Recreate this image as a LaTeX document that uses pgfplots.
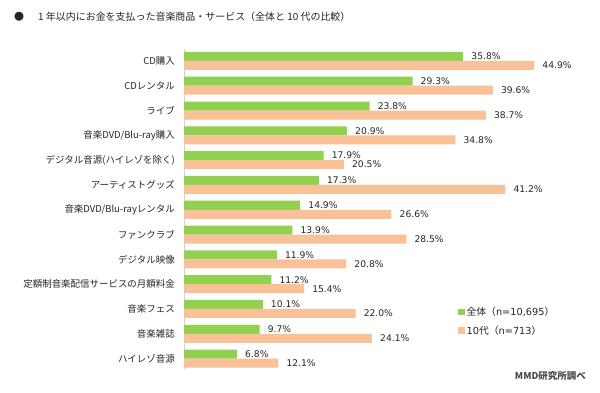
\documentclass[border=0pt]{standalone}
\usepackage{pgfplots}
\pgfplotsset{compat=1.18}
\usepackage{pgfplotstable}
\usepackage{fontspec}
\setmainfont{Noto Sans CJK JP}
\newfontfamily\numfont{DejaVu Sans}
\definecolor{gr}{HTML}{92D050}
\definecolor{og}{HTML}{F9C197}
\definecolor{txt}{HTML}{262626}
\pgfplotstableread{
y all teen
0 35.8 44.9
1 29.3 39.6
2 23.8 38.7
3 20.9 34.8
4 17.9 20.5
5 17.3 41.2
6 14.9 26.6
7 13.9 28.5
8 11.9 20.8
9 11.2 15.4
10 10.1 22.0
11 9.7 24.1
12 6.8 12.1
}\data
\begin{document}
\begin{tikzpicture}[x=1bp,y=1bp]
\path[use as bounding box,fill=white] (0,0) rectangle (600,392);
\node[anchor=center,font=\fontsize{10}{12}\selectfont,text=txt] at (19,375) {●};
\node[anchor=west,inner sep=0pt,font=\fontsize{10}{12}\selectfont,text=txt] at (38,375) {1 年以内にお金を支払った音楽商品・サービス（全体と 10 代の比較）};
\begin{axis}[
  at={(184bp,23bp)}, anchor=south west,
  scale only axis, width=390bp, height=320bp,
  xmin=0, xmax=50, ymin=-0.48, ymax=12.42, y dir=reverse,
  xbar, bar width=0.363,
  axis y line*=left, axis x line=none,
  y axis line style={draw=black!18, line width=0.8pt},
  xtick=\empty, ytick={0,...,12}, major tick length=0pt,
  yticklabels={CD購入,CDレンタル,ライブ,音楽DVD/Blu-ray購入,デジタル音源(ハイレゾを除く),アーティストグッズ,音楽DVD/Blu-rayレンタル,ファンクラブ,デジタル映像,定額制音楽配信サービスの月額料金,音楽フェス,音楽雑誌,ハイレゾ音源},
  yticklabel style={font=\fontsize{9.5}{11}\selectfont, text=txt, inner sep=0pt, xshift=-9bp},
  nodes near coords={\pgfmathprintnumber[fixed,fixed zerofill,precision=1,assume math mode=true]{\pgfplotspointmeta}\%},
  nodes near coords style={font=\numfont\fontsize{9.2}{10}\selectfont, text=txt, anchor=west, inner sep=0pt, xshift=8bp},
  point meta=explicit,
  legend style={at={(rel axis cs:0.7026,0.2)}, anchor=north west, draw=none, fill=none,
    font=\fontsize{9.8}{11}\selectfont, text=txt, row sep=5bp, inner sep=0pt,
    /tikz/every even column/.append style={column sep=2bp}},
  legend cell align=left,
  legend image code/.code={\fill[#1,draw=none] (0bp,-3bp) rectangle (6.5bp,3.5bp);},
]
\addplot[fill=gr, draw=none, bar shift=-0.1815] table[x=all, y=y, meta=all] {\data};
\addplot[fill=og, draw=none, bar shift=0.1815] table[x=teen, y=y, meta=teen] {\data};
\legend{{全体（{\numfont n=10,695}）},{{\numfont 10}代（{\numfont n=713}）}}
\end{axis}
\node[anchor=east,inner sep=0pt,font=\bfseries\fontsize{9.5}{11}\selectfont,text=black!70] at (586,16) {MMD研究所調べ};
\end{tikzpicture}
\end{document}
